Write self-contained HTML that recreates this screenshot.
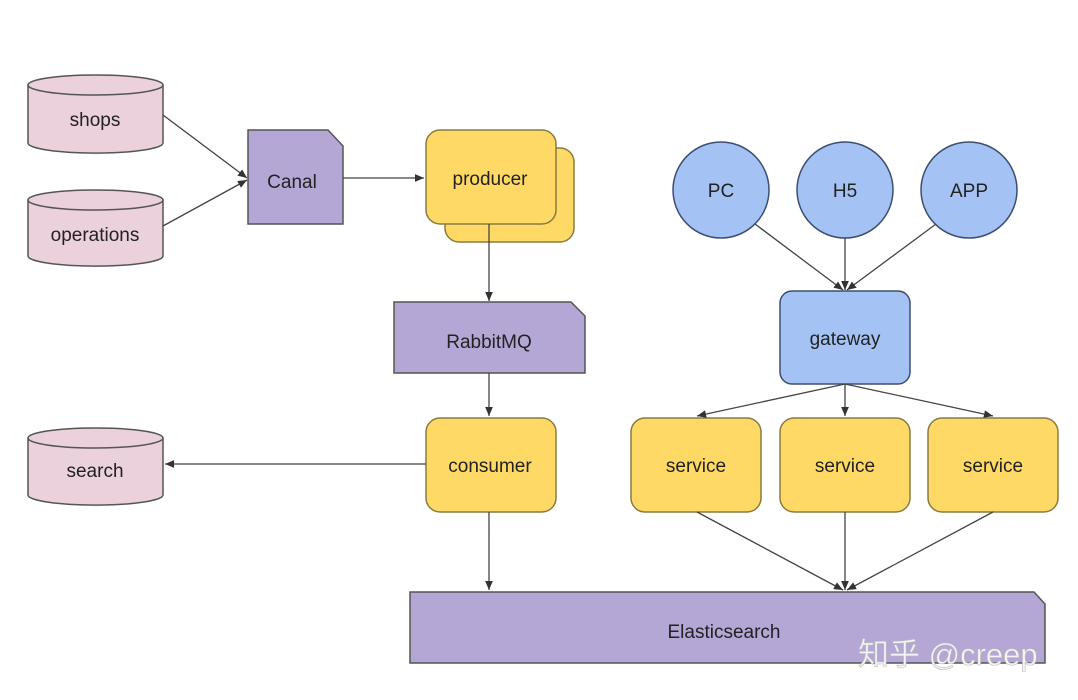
<!DOCTYPE html>
<html><head><meta charset="utf-8"><style>body{margin:0;background:#fff}svg{display:block}</style></head><body>
<svg width="1078" height="700" xmlns="http://www.w3.org/2000/svg" font-family="Liberation Sans, sans-serif" font-size="19" fill="#222">
<defs><marker id="a" markerWidth="8" markerHeight="8" refX="7" refY="4" orient="auto"><path d="M0,1 L7,4 L0,7 z" fill="#333"/></marker></defs>
<g stroke="#555" stroke-width="1.5">
<!-- cylinders -->
<g fill="#ead1dc">
<path d="M28,85 v58 a67,10 0 0 0 135,0 v-58"/><ellipse cx="95.5" cy="85" rx="67.5" ry="10"/>
<path d="M28,200 v56 a67,10 0 0 0 135,0 v-56"/><ellipse cx="95.5" cy="200" rx="67.5" ry="10"/>
<path d="M28,438 v57 a67,10 0 0 0 135,0 v-57"/><ellipse cx="95.5" cy="438" rx="67.5" ry="10"/>
</g>
<g fill="#b4a7d6">
<path d="M248,130 h80 l15,16 v78 h-95 z"/>
<path d="M394,302 h177 l14,14 v57 h-191 z"/>
<path d="M410,592 h624 l11,12 v59 h-635 z"/>
</g>
<g fill="#ffd966" stroke="#8a7a40">
<rect x="445" y="148" width="129" height="94" rx="14"/>
<rect x="426" y="130" width="130" height="94" rx="14"/>
<rect x="426" y="418" width="130" height="94" rx="14"/>
<rect x="631" y="418" width="130" height="94" rx="14"/>
<rect x="780" y="418" width="130" height="94" rx="14"/>
<rect x="928" y="418" width="130" height="94" rx="14"/>
</g>
<g fill="#a4c2f4" stroke="#3d4f70">
<circle cx="721" cy="190" r="48"/><circle cx="845" cy="190" r="48"/><circle cx="969" cy="190" r="48"/>
<rect x="780" y="291" width="130" height="93" rx="12"/>
</g>
</g>
<g stroke="#444" stroke-width="1.3" fill="none" marker-end="url(#a)">
<line x1="163" y1="115" x2="247" y2="178"/>
<line x1="163" y1="226" x2="247" y2="180"/>
<line x1="343" y1="178" x2="424" y2="178"/>
<line x1="489" y1="224" x2="489" y2="301"/>
<line x1="489" y1="373" x2="489" y2="416"/>
<line x1="426" y1="464" x2="165" y2="464"/>
<line x1="489" y1="512" x2="489" y2="590"/>
<line x1="755" y1="224" x2="843" y2="290"/>
<line x1="845" y1="238" x2="845" y2="290"/>
<line x1="936" y1="224" x2="847" y2="290"/>
<line x1="845" y1="384" x2="697" y2="416"/>
<line x1="845" y1="384" x2="845" y2="416"/>
<line x1="845" y1="384" x2="993" y2="416"/>
<line x1="697" y1="512" x2="843" y2="590"/>
<line x1="845" y1="512" x2="845" y2="590"/>
<line x1="993" y1="512" x2="847" y2="590"/>
</g>
<g text-anchor="middle">
<text x="95" y="126">shops</text>
<text x="95" y="241">operations</text>
<text x="95" y="477">search</text>
<text x="292" y="188">Canal</text>
<text x="490" y="185">producer</text>
<text x="489" y="348">RabbitMQ</text>
<text x="490" y="472">consumer</text>
<text x="721" y="197">PC</text>
<text x="845" y="197">H5</text>
<text x="969" y="197">APP</text>
<text x="845" y="345">gateway</text>
<text x="696" y="472">service</text>
<text x="845" y="472">service</text>
<text x="993" y="472">service</text>
<text x="724" y="638">Elasticsearch</text>
</g>
<text x="858" y="665" font-size="31" fill="#f4f4f4" stroke="#bbb" stroke-width="0.6" font-family="Liberation Sans, Noto Sans CJK SC, sans-serif">知乎 @creep</text>
</svg>
</body></html>
